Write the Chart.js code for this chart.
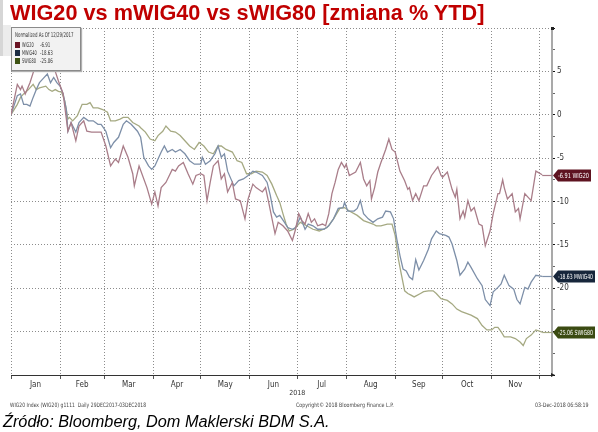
<!DOCTYPE html>
<html lang="pl">
<head>
    <script src="https://cdn.jsdelivr.net/npm/chart.js"></script>
    <meta charset="UTF-8">
    <title>WIG20 vs mWIG40 vs sWIG80</title>
<style>
body {
    margin: 0;
    background: #fff;
}
.page {
    position: relative;
    width: 598px;
    height: 432px;
    overflow: hidden;
    font-family: 'Liberation Sans', Arial, sans-serif;
}
#chart {
    position: absolute;
    left: 0;
    top: 0;
}
.title {
    position: absolute;
    left: 10px;
    top: 0px;
    font-size: 21.7px;
    font-weight: bold;
    color: #c00000;
    white-space: nowrap;
}
/* szary pasek po lewej */
.strip {
    position: absolute;
    left: 0;
    top: 0;
    width: 3px;
    height: 56px;
    background: #d6d6d6;
}
.strip2 {
    position: absolute;
    left: 3px;
    top: 25px;
    width: 8px;
    height: 31px;
    background: #ececec;
}
.legend {
    position: absolute;
    left: 11px;
    top: 27px;
    width: 68px;
    height: 42px;
    background: #f2f2f2;
    border: 1px solid #8a8a8a;
    box-shadow: 1px 1px 1px #b0b0b0;
    font-family: 'DejaVu Sans Condensed', sans-serif;
    font-size: 6.5px;
    color: #333;
}
.legend span.t {
    position: absolute;
    white-space: nowrap;
    transform: scaleX(0.68);
    transform-origin: left center;
    line-height: 7px;
}
.legend span.n {
    transform: scaleX(0.6);
}
.legend .sq {
    position: absolute;
    left: 3px;
    width: 5px;
    height: 6px;
}
.small {
    position: absolute;
    top: 401px;
    font-family: 'DejaVu Sans Condensed', sans-serif;
    font-size: 6px;
    color: #444;
    white-space: nowrap;
    transform: scaleX(0.88);
    transform-origin: left center;
}
.source {
    position: absolute;
    left: 3px;
    top: 412px;
    font-size: 16.3px;
    font-style: italic;
    color: #000;
    white-space: nowrap;
}
</style>
</head>
<body>
<div class="page">
    <canvas id="chart" width="598" height="432"></canvas>
    <div class="strip"></div>
    <div class="strip2"></div>
    <div class="title">WIG20 vs mWIG40 vs sWIG80 [zmiana % YTD]</div>
    <div class="legend">
        <span class="t" style="left:3px; top:4px">Normalized As Of 12/29/2017</span>
        <div class="sq" style="top:14px; background:#6a1424"></div>
        <span class="t n" style="left:10px; top:14px">WIG20</span>
        <span class="t" style="left:28px; top:14px">-6.91</span>
        <div class="sq" style="top:22px; background:#1b2b42"></div>
        <span class="t n" style="left:10px; top:22px">MWIG40</span>
        <span class="t" style="left:28px; top:22px">-18.63</span>
        <div class="sq" style="top:30px; background:#3d5212"></div>
        <span class="t n" style="left:10px; top:30px">SWIG80</span>
        <span class="t" style="left:28px; top:30px">-25.06</span>
    </div>
    <div class="small" style="left:10px; transform: scaleX(0.84)">WIG20 Index (WIG20) g1111&nbsp;&nbsp;Daily 29DEC2017-03DEC2018</div>
    <div class="small" style="left:296px">Copyright© 2018 Bloomberg Finance L.P.</div>
    <div class="small" style="left:535px">03-Dec-2018 06:58:19</div>
    <div class="source">Źródło: Bloomberg, Dom Maklerski BDM S.A.</div>
</div>

<script>
// dni od 1 stycznia 2018, zmiana % od 29.12.2017
const monthStarts = [0, 31, 59, 90, 120, 151, 181, 212, 243, 273, 304, 334];
const monthNames = ['Jan', 'Feb', 'Mar', 'Apr', 'May', 'Jun', 'Jul', 'Aug', 'Sep', 'Oct', 'Nov'];
const yearLabel = '2018';
const yearTickDay = 181;

const seriesNames = ['WIG20', 'MWIG40', 'SWIG80'];
const lastValues = [-6.91, -18.63, -25.06];

const wig20 = [
    [0, 0], [4, 3.5], [6, 2.9], [7, 3.3], [9, 2.4], [12, 3.7], [15, 5.4], [17, 5.6], [20, 5.4], [24, 5.8],
    [26, 5.8], [28, 5.0], [30, 3.9], [33, 2.4], [36, -1.9], [38, -0.9], [41, -3.0], [43, -1.3], [46, -0.7], [48, -1.9],
    [51, -2.0], [54, -2.0], [57, -2.0], [60, -3.6], [63, -5.9], [66, -5.1], [68, -5.5], [71, -3.6], [74, -4.9], [77, -6.8],
    [78, -8.2], [81, -5.9], [86, -8.4], [89, -10.3], [91, -8.9], [93, -10.5], [95, -8.4], [98, -7.8], [102, -6.3], [104, -6.5],
    [106, -5.9], [109, -5.5], [112, -6.8], [115, -8.0], [117, -7.0], [120, -6.8], [122, -7.0], [124, -9.9], [126, -7.8], [128, -5.9],
    [131, -5.3], [133, -7.4], [135, -6.8], [137, -8.9], [140, -7.8], [142, -9.7], [145, -9.9], [148, -12.0], [150, -9.7], [153, -8.0],
    [155, -8.4], [159, -8.9], [161, -8.4], [163, -10.1], [167, -13.7], [169, -12.4], [172, -12.8], [175, -13.4], [178, -14.5], [180, -13.2],
    [182, -11.4], [184, -12.2], [186, -12.6], [188, -11.4], [190, -12.4], [192, -12.0], [194, -12.8], [197, -12.6], [199, -12.8], [201, -11.4],
    [203, -9.1], [205, -7.8], [207, -6.3], [209, -5.5], [211, -6.1], [212, -5.7], [214, -7.0], [218, -6.6], [221, -5.5], [223, -7.4],
    [225, -8.2], [227, -7.6], [228, -9.7], [230, -8.4], [232, -6.6], [234, -5.5], [237, -4.0], [239, -2.8], [241, -4.0], [243, -4.3],
    [246, -6.5], [249, -7.6], [251, -8.6], [252, -8.4], [254, -9.9], [256, -9.1], [258, -9.9], [261, -8.2], [263, -8.2], [266, -7.0],
    [270, -6.0], [272, -7.0], [273, -7.2], [276, -6.6], [279, -8.6], [281, -9.5], [282, -8.6], [284, -12.0], [286, -11.1], [287, -11.8],
    [289, -9.9], [291, -11.1], [293, -10.7], [296, -12.6], [298, -12.8], [300, -15.1], [303, -13.4], [305, -11.4], [308, -9.1], [309, -9.1],
    [311, -7.5], [312, -8.4], [314, -9.7], [317, -9.1], [319, -11.2], [321, -10.8], [322, -12.0], [325, -9.1], [327, -9.5], [329, -9.9],
    [332, -6.5], [336, -6.91]
];

const mwig40 = [
    [0, 0], [4, 2.2], [6, 2.4], [8, 1.2], [10, 1.2], [12, 1.0], [14, 2.0], [16, 2.9], [18, 3.7], [20, 4.1],
    [23, 4.7], [25, 3.7], [27, 4.3], [29, 3.7], [31, 3.3], [33, 2.4], [35, 0.6], [36, -1.9], [38, -0.9], [41, -2.0],
    [43, -0.9], [46, -0.3], [49, -0.7], [52, -0.7], [55, -1.1], [57, -1.1], [60, -1.9], [63, -3.8], [65, -3.2], [68, -2.6],
    [71, -1.1], [73, -0.7], [76, -1.1], [80, -1.9], [82, -2.6], [84, -4.9], [87, -5.9], [89, -6.3], [91, -5.9], [93, -5.1],
    [95, -4.3], [97, -3.6], [99, -4.3], [102, -4.0], [104, -4.3], [107, -4.0], [110, -4.5], [113, -5.3], [116, -5.7], [120, -5.7],
    [121, -4.9], [123, -5.7], [126, -5.3], [129, -4.5], [131, -3.6], [133, -4.9], [135, -4.5], [137, -6.5], [141, -8.2], [144, -7.6],
    [147, -7.4], [150, -7.0], [153, -6.5], [155, -6.6], [159, -7.0], [162, -7.8], [164, -9.3], [166, -11.2], [168, -11.8], [170, -11.6],
    [173, -12.4], [175, -13.0], [178, -13.2], [180, -13.0], [183, -11.8], [186, -13.2], [188, -12.6], [191, -12.8], [194, -13.2], [198, -13.2],
    [201, -12.8], [204, -12.0], [207, -10.8], [210, -10.7], [211, -10.1], [213, -11.1], [217, -11.1], [219, -10.8], [221, -9.9], [223, -11.4],
    [226, -12.0], [229, -12.4], [232, -12.0], [235, -11.8], [237, -11.1], [240, -11.2], [242, -12.0], [244, -14.3], [246, -16.2], [248, -17.8],
    [250, -18.0], [252, -18.7], [254, -19.0], [256, -16.7], [258, -17.9], [261, -16.8], [264, -15.5], [266, -14.3], [269, -13.4], [271, -13.7],
    [275, -13.9], [277, -14.1], [279, -14.9], [282, -16.8], [284, -18.5], [287, -17.8], [289, -17.0], [291, -17.6], [295, -18.9], [298, -19.7],
    [300, -21.3], [303, -22.0], [305, -20.4], [308, -19.9], [310, -19.5], [312, -18.5], [315, -19.7], [318, -20.1], [320, -21.3], [322, -21.8],
    [325, -19.9], [327, -20.1], [329, -19.3], [332, -18.5], [336, -18.63]
];

const swig80 = [
    [0, 0], [4, 1.2], [6, 2.0], [8, 2.4], [11, 2.9], [14, 3.5], [16, 2.9], [18, 3.1], [22, 3.3], [24, 2.9],
    [26, 2.7], [28, 2.9], [30, 2.7], [32, 2.6], [34, 1.6], [36, -0.5], [37, -0.3], [39, -0.7], [42, -0.1], [45, 1.2],
    [48, 1.2], [50, 1.4], [52, 0.8], [55, 0.8], [58, 0.6], [61, 0.3], [63, -0.7], [66, -0.7], [69, -0.5], [71, -0.3],
    [74, -0.3], [77, -0.9], [81, -1.3], [82, -1.5], [85, -2.0], [88, -2.8], [91, -3.0], [93, -2.4], [96, -1.9], [98, -1.3],
    [101, -1.9], [104, -2.0], [107, -2.4], [110, -3.0], [113, -3.6], [116, -4.0], [119, -3.2], [122, -3.6], [125, -4.3], [128, -4.5],
    [131, -3.6], [133, -3.6], [136, -4.0], [140, -4.3], [143, -5.3], [146, -5.5], [149, -6.8], [152, -6.8], [155, -6.5], [159, -6.6],
    [162, -7.0], [165, -8.0], [168, -9.3], [170, -10.1], [172, -11.4], [174, -12.6], [176, -13.4], [179, -13.2], [181, -12.8], [183, -12.4],
    [187, -12.8], [191, -13.2], [195, -13.4], [200, -13.0], [204, -12.0], [208, -10.8], [211, -10.7], [214, -11.1], [219, -11.6], [223, -12.2],
    [226, -12.4], [229, -12.6], [231, -12.8], [234, -12.8], [238, -12.6], [241, -12.6], [243, -13.9], [245, -16.6], [247, -18.5], [249, -20.3],
    [251, -20.6], [253, -20.8], [255, -21.0], [259, -20.6], [261, -20.4], [264, -20.3], [267, -20.3], [269, -20.6], [272, -21.2], [276, -21.4],
    [279, -21.8], [282, -22.4], [285, -22.7], [288, -22.9], [291, -23.1], [295, -23.5], [298, -24.3], [301, -24.8], [304, -24.8], [306, -24.5],
    [308, -24.5], [310, -25.0], [312, -25.6], [316, -25.6], [319, -25.8], [322, -26.2], [324, -26.6], [326, -25.8], [329, -25.4], [332, -24.8],
    [336, -25.06]
];

const lineColors = ['#a97d89', '#7d8fa8', '#a5a982'];
const flagColors = ['#5e1320', '#17263b', '#3b4b12'];

const xMax = 342.2;
const smallFont = "'DejaVu Sans Condensed', sans-serif";

function toPoints(arr) {
    return arr.map(p => ({x: p[0], y: p[1]}));
}

function setTicks(values) {
    return scale => { scale.ticks = values.map(v => ({value: v})); };
}

// flagi z ostatnia wartoscia po prawej stronie
const flagPlugin = {
    id: 'flags',
    afterDraw(chart) {
        const ctx = chart.ctx;
        const area = chart.chartArea;
        const yScale = chart.scales.y;

        // strzalki na koncach osi
        ctx.save();
        ctx.fillStyle = '#222';
        ctx.beginPath();
        ctx.moveTo(area.right + 3, area.bottom);
        ctx.lineTo(area.right - 1, area.bottom - 2);
        ctx.lineTo(area.right - 1, area.bottom + 2);
        ctx.fill();
        ctx.fillRect(area.right - 1, area.top - 1, 3, 3);

        chart.data.datasets.forEach((ds, i) => {
            const meta = chart.getDatasetMeta(i);
            const last = meta.data[meta.data.length - 1];
            const y = Math.round(yScale.getPixelForValue(lastValues[i])) + 0.5;
            ctx.strokeStyle = ds.borderColor;
            ctx.lineWidth = 1.2;
            ctx.beginPath();
            ctx.moveTo(last.x, y);
            ctx.lineTo(area.right, y);
            ctx.stroke();

            const x0 = area.right + 1;
            const w = i === 0 ? 38 : 42;
            ctx.fillStyle = flagColors[i];
            ctx.beginPath();
            ctx.moveTo(x0, y);
            ctx.lineTo(x0 + 5, y - 6);
            ctx.lineTo(x0 + w, y - 6);
            ctx.lineTo(x0 + w, y + 6);
            ctx.lineTo(x0 + 5, y + 6);
            ctx.closePath();
            ctx.fill();

            ctx.fillStyle = '#fff';
            ctx.font = '7px ' + smallFont;
            ctx.textBaseline = 'middle';
            ctx.textAlign = 'left';
            ctx.fillText(lastValues[i].toFixed(2) + ' ' + seriesNames[i], x0 + 5, y + 0.5, w - 7);
        });
        ctx.restore();
    }
};

const monthMids = monthNames.map((m, i) => (monthStarts[i] + monthStarts[i + 1]) / 2);

const ctx = document.getElementById('chart').getContext('2d');
new Chart(ctx, {
    type: 'line',
    data: {
        datasets: [wig20, mwig40, swig80].map((arr, i) => ({
            label: seriesNames[i],
            data: toPoints(arr),
            borderColor: lineColors[i],
            borderWidth: 1.3,
            pointRadius: 0,
            tension: 0,
            fill: false
        }))
    },
    options: {
        responsive: false,
        animation: false,
        layout: {
            padding: {left: 11, top: 28, right: 0, bottom: 33}
        },
        plugins: {
            legend: {display: false},
            tooltip: {enabled: false}
        },
        scales: {
            x: {
                type: 'linear',
                position: 'bottom',
                weight: 0,
                min: 0,
                max: xMax,
                afterBuildTicks: setTicks(monthStarts),
                afterFit: s => { s.height = 4; },
                ticks: {display: false},
                grid: {
                    color: '#8c8c8c',
                    lineWidth: 1,
                    tickLength: 4,
                    tickColor: '#555'
                },
                border: {display: true, color: '#333', width: 1, dash: [1, 2]}
            },
            xm: {
                type: 'linear',
                position: 'bottom',
                weight: 1,
                min: 0,
                max: xMax,
                afterBuildTicks: setTicks(monthMids),
                afterFit: s => { s.height = 10; },
                ticks: {
                    padding: 1,
                    maxRotation: 0,
                    color: '#333',
                    font: {family: smallFont, size: 8},
                    callback: (v, idx) => monthNames[idx]
                },
                grid: {display: false, drawTicks: false},
                border: {display: false}
            },
            xy: {
                type: 'linear',
                position: 'bottom',
                weight: 2,
                min: 0,
                max: xMax,
                afterBuildTicks: setTicks([yearTickDay]),
                afterFit: s => { s.height = 10; },
                ticks: {
                    padding: 0,
                    maxRotation: 0,
                    color: '#333',
                    font: {family: smallFont, size: 7},
                    callback: () => yearLabel
                },
                grid: {display: false, drawTicks: false},
                border: {display: false}
            },
            y: {
                position: 'right',
                min: -30,
                max: 10,
                afterFit: s => { s.width = 46; },
                ticks: {
                    stepSize: 2.5,
                    padding: 2,
                    color: '#333',
                    font: {family: smallFont, size: 8},
                    callback: v => (v % 5 === 0 && v < 10 && v > -30) ? String(v) : ''
                },
                grid: {
                    color: c => (c.tick && c.tick.value % 5 === 0 && c.tick.value > -30) ? '#8c8c8c' : 'rgba(0,0,0,0)',
                    lineWidth: 1,
                    tickLength: 3,
                    tickColor: c => (c.tick && c.tick.value % 5 === 0) ? '#111' : '#666'
                },
                border: {display: true, color: '#a9a9a9', width: 2, dash: [1, 2]}
            }
        }
    },
    plugins: [flagPlugin]
});
</script>
</body>
</html>
